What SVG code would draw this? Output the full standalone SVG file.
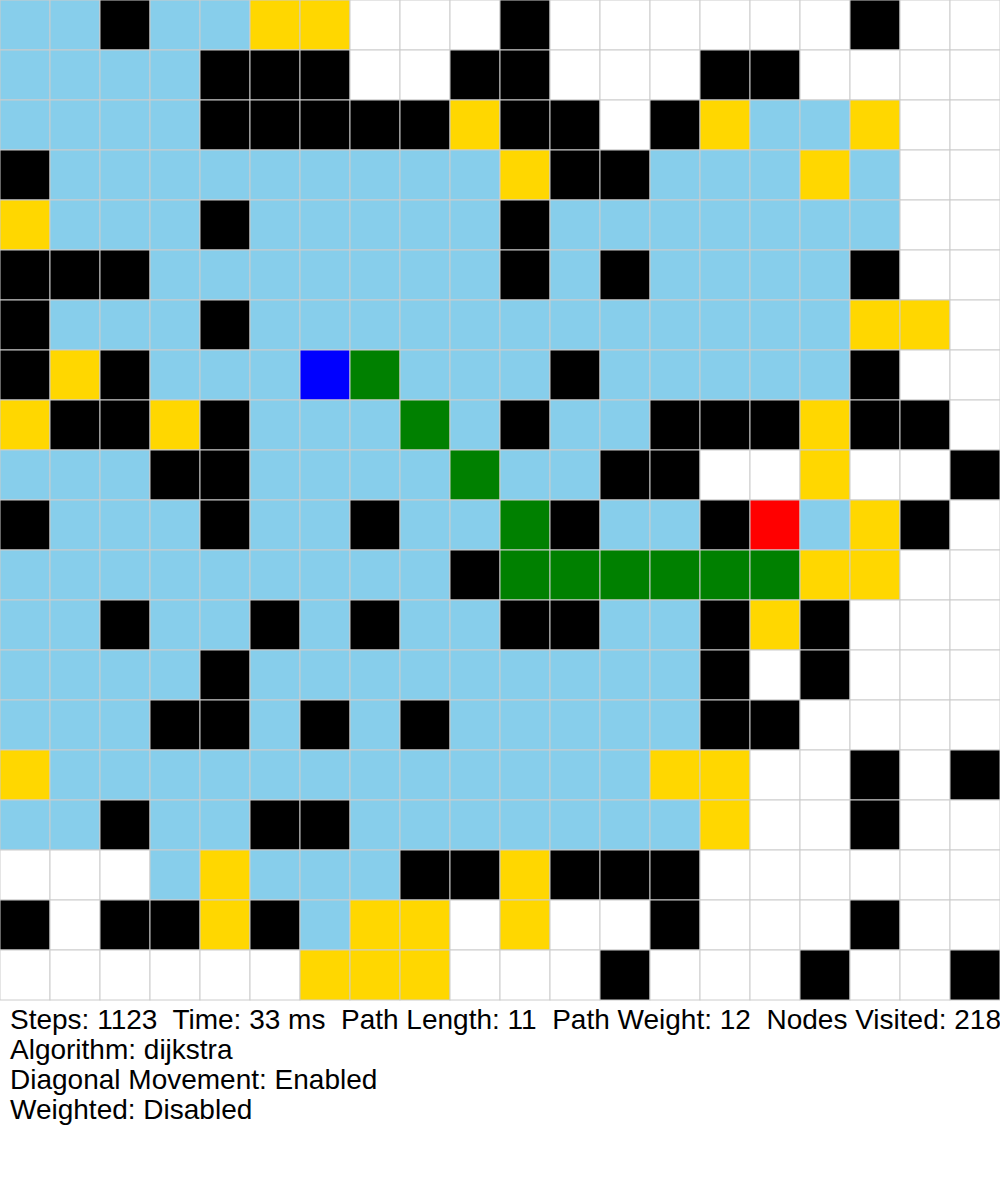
<svg xmlns="http://www.w3.org/2000/svg" width="1000" height="1200" viewBox="0 0 1000 1200">
<style>
rect{stroke:#cccccc;stroke-width:1}
.L{fill:#87CEEB}.B{fill:#000000}.Y{fill:#FFD700}.W{fill:#FFFFFF}.U{fill:#0000FF}.G{fill:#008000}.R{fill:#FF0000}
text{font-family:"Liberation Sans",Arial,sans-serif;font-size:28px;fill:#000;white-space:pre}
</style>
<rect x="0" y="0" width="1000" height="1200" fill="#FFFFFF" style="stroke:none"/>
<g id="grid">
<g id="row0"><rect class="L" x="0" y="0" width="50" height="50"/><rect class="L" x="50" y="0" width="50" height="50"/><rect class="B" x="100" y="0" width="50" height="50"/><rect class="L" x="150" y="0" width="50" height="50"/><rect class="L" x="200" y="0" width="50" height="50"/><rect class="Y" x="250" y="0" width="50" height="50"/><rect class="Y" x="300" y="0" width="50" height="50"/><rect class="W" x="350" y="0" width="50" height="50"/><rect class="W" x="400" y="0" width="50" height="50"/><rect class="W" x="450" y="0" width="50" height="50"/><rect class="B" x="500" y="0" width="50" height="50"/><rect class="W" x="550" y="0" width="50" height="50"/><rect class="W" x="600" y="0" width="50" height="50"/><rect class="W" x="650" y="0" width="50" height="50"/><rect class="W" x="700" y="0" width="50" height="50"/><rect class="W" x="750" y="0" width="50" height="50"/><rect class="W" x="800" y="0" width="50" height="50"/><rect class="B" x="850" y="0" width="50" height="50"/><rect class="W" x="900" y="0" width="50" height="50"/><rect class="W" x="950" y="0" width="50" height="50"/></g>
<g id="row1"><rect class="L" x="0" y="50" width="50" height="50"/><rect class="L" x="50" y="50" width="50" height="50"/><rect class="L" x="100" y="50" width="50" height="50"/><rect class="L" x="150" y="50" width="50" height="50"/><rect class="B" x="200" y="50" width="50" height="50"/><rect class="B" x="250" y="50" width="50" height="50"/><rect class="B" x="300" y="50" width="50" height="50"/><rect class="W" x="350" y="50" width="50" height="50"/><rect class="W" x="400" y="50" width="50" height="50"/><rect class="B" x="450" y="50" width="50" height="50"/><rect class="B" x="500" y="50" width="50" height="50"/><rect class="W" x="550" y="50" width="50" height="50"/><rect class="W" x="600" y="50" width="50" height="50"/><rect class="W" x="650" y="50" width="50" height="50"/><rect class="B" x="700" y="50" width="50" height="50"/><rect class="B" x="750" y="50" width="50" height="50"/><rect class="W" x="800" y="50" width="50" height="50"/><rect class="W" x="850" y="50" width="50" height="50"/><rect class="W" x="900" y="50" width="50" height="50"/><rect class="W" x="950" y="50" width="50" height="50"/></g>
<g id="row2"><rect class="L" x="0" y="100" width="50" height="50"/><rect class="L" x="50" y="100" width="50" height="50"/><rect class="L" x="100" y="100" width="50" height="50"/><rect class="L" x="150" y="100" width="50" height="50"/><rect class="B" x="200" y="100" width="50" height="50"/><rect class="B" x="250" y="100" width="50" height="50"/><rect class="B" x="300" y="100" width="50" height="50"/><rect class="B" x="350" y="100" width="50" height="50"/><rect class="B" x="400" y="100" width="50" height="50"/><rect class="Y" x="450" y="100" width="50" height="50"/><rect class="B" x="500" y="100" width="50" height="50"/><rect class="B" x="550" y="100" width="50" height="50"/><rect class="W" x="600" y="100" width="50" height="50"/><rect class="B" x="650" y="100" width="50" height="50"/><rect class="Y" x="700" y="100" width="50" height="50"/><rect class="L" x="750" y="100" width="50" height="50"/><rect class="L" x="800" y="100" width="50" height="50"/><rect class="Y" x="850" y="100" width="50" height="50"/><rect class="W" x="900" y="100" width="50" height="50"/><rect class="W" x="950" y="100" width="50" height="50"/></g>
<g id="row3"><rect class="B" x="0" y="150" width="50" height="50"/><rect class="L" x="50" y="150" width="50" height="50"/><rect class="L" x="100" y="150" width="50" height="50"/><rect class="L" x="150" y="150" width="50" height="50"/><rect class="L" x="200" y="150" width="50" height="50"/><rect class="L" x="250" y="150" width="50" height="50"/><rect class="L" x="300" y="150" width="50" height="50"/><rect class="L" x="350" y="150" width="50" height="50"/><rect class="L" x="400" y="150" width="50" height="50"/><rect class="L" x="450" y="150" width="50" height="50"/><rect class="Y" x="500" y="150" width="50" height="50"/><rect class="B" x="550" y="150" width="50" height="50"/><rect class="B" x="600" y="150" width="50" height="50"/><rect class="L" x="650" y="150" width="50" height="50"/><rect class="L" x="700" y="150" width="50" height="50"/><rect class="L" x="750" y="150" width="50" height="50"/><rect class="Y" x="800" y="150" width="50" height="50"/><rect class="L" x="850" y="150" width="50" height="50"/><rect class="W" x="900" y="150" width="50" height="50"/><rect class="W" x="950" y="150" width="50" height="50"/></g>
<g id="row4"><rect class="Y" x="0" y="200" width="50" height="50"/><rect class="L" x="50" y="200" width="50" height="50"/><rect class="L" x="100" y="200" width="50" height="50"/><rect class="L" x="150" y="200" width="50" height="50"/><rect class="B" x="200" y="200" width="50" height="50"/><rect class="L" x="250" y="200" width="50" height="50"/><rect class="L" x="300" y="200" width="50" height="50"/><rect class="L" x="350" y="200" width="50" height="50"/><rect class="L" x="400" y="200" width="50" height="50"/><rect class="L" x="450" y="200" width="50" height="50"/><rect class="B" x="500" y="200" width="50" height="50"/><rect class="L" x="550" y="200" width="50" height="50"/><rect class="L" x="600" y="200" width="50" height="50"/><rect class="L" x="650" y="200" width="50" height="50"/><rect class="L" x="700" y="200" width="50" height="50"/><rect class="L" x="750" y="200" width="50" height="50"/><rect class="L" x="800" y="200" width="50" height="50"/><rect class="L" x="850" y="200" width="50" height="50"/><rect class="W" x="900" y="200" width="50" height="50"/><rect class="W" x="950" y="200" width="50" height="50"/></g>
<g id="row5"><rect class="B" x="0" y="250" width="50" height="50"/><rect class="B" x="50" y="250" width="50" height="50"/><rect class="B" x="100" y="250" width="50" height="50"/><rect class="L" x="150" y="250" width="50" height="50"/><rect class="L" x="200" y="250" width="50" height="50"/><rect class="L" x="250" y="250" width="50" height="50"/><rect class="L" x="300" y="250" width="50" height="50"/><rect class="L" x="350" y="250" width="50" height="50"/><rect class="L" x="400" y="250" width="50" height="50"/><rect class="L" x="450" y="250" width="50" height="50"/><rect class="B" x="500" y="250" width="50" height="50"/><rect class="L" x="550" y="250" width="50" height="50"/><rect class="B" x="600" y="250" width="50" height="50"/><rect class="L" x="650" y="250" width="50" height="50"/><rect class="L" x="700" y="250" width="50" height="50"/><rect class="L" x="750" y="250" width="50" height="50"/><rect class="L" x="800" y="250" width="50" height="50"/><rect class="B" x="850" y="250" width="50" height="50"/><rect class="W" x="900" y="250" width="50" height="50"/><rect class="W" x="950" y="250" width="50" height="50"/></g>
<g id="row6"><rect class="B" x="0" y="300" width="50" height="50"/><rect class="L" x="50" y="300" width="50" height="50"/><rect class="L" x="100" y="300" width="50" height="50"/><rect class="L" x="150" y="300" width="50" height="50"/><rect class="B" x="200" y="300" width="50" height="50"/><rect class="L" x="250" y="300" width="50" height="50"/><rect class="L" x="300" y="300" width="50" height="50"/><rect class="L" x="350" y="300" width="50" height="50"/><rect class="L" x="400" y="300" width="50" height="50"/><rect class="L" x="450" y="300" width="50" height="50"/><rect class="L" x="500" y="300" width="50" height="50"/><rect class="L" x="550" y="300" width="50" height="50"/><rect class="L" x="600" y="300" width="50" height="50"/><rect class="L" x="650" y="300" width="50" height="50"/><rect class="L" x="700" y="300" width="50" height="50"/><rect class="L" x="750" y="300" width="50" height="50"/><rect class="L" x="800" y="300" width="50" height="50"/><rect class="Y" x="850" y="300" width="50" height="50"/><rect class="Y" x="900" y="300" width="50" height="50"/><rect class="W" x="950" y="300" width="50" height="50"/></g>
<g id="row7"><rect class="B" x="0" y="350" width="50" height="50"/><rect class="Y" x="50" y="350" width="50" height="50"/><rect class="B" x="100" y="350" width="50" height="50"/><rect class="L" x="150" y="350" width="50" height="50"/><rect class="L" x="200" y="350" width="50" height="50"/><rect class="L" x="250" y="350" width="50" height="50"/><rect class="U" x="300" y="350" width="50" height="50"/><rect class="G" x="350" y="350" width="50" height="50"/><rect class="L" x="400" y="350" width="50" height="50"/><rect class="L" x="450" y="350" width="50" height="50"/><rect class="L" x="500" y="350" width="50" height="50"/><rect class="B" x="550" y="350" width="50" height="50"/><rect class="L" x="600" y="350" width="50" height="50"/><rect class="L" x="650" y="350" width="50" height="50"/><rect class="L" x="700" y="350" width="50" height="50"/><rect class="L" x="750" y="350" width="50" height="50"/><rect class="L" x="800" y="350" width="50" height="50"/><rect class="B" x="850" y="350" width="50" height="50"/><rect class="W" x="900" y="350" width="50" height="50"/><rect class="W" x="950" y="350" width="50" height="50"/></g>
<g id="row8"><rect class="Y" x="0" y="400" width="50" height="50"/><rect class="B" x="50" y="400" width="50" height="50"/><rect class="B" x="100" y="400" width="50" height="50"/><rect class="Y" x="150" y="400" width="50" height="50"/><rect class="B" x="200" y="400" width="50" height="50"/><rect class="L" x="250" y="400" width="50" height="50"/><rect class="L" x="300" y="400" width="50" height="50"/><rect class="L" x="350" y="400" width="50" height="50"/><rect class="G" x="400" y="400" width="50" height="50"/><rect class="L" x="450" y="400" width="50" height="50"/><rect class="B" x="500" y="400" width="50" height="50"/><rect class="L" x="550" y="400" width="50" height="50"/><rect class="L" x="600" y="400" width="50" height="50"/><rect class="B" x="650" y="400" width="50" height="50"/><rect class="B" x="700" y="400" width="50" height="50"/><rect class="B" x="750" y="400" width="50" height="50"/><rect class="Y" x="800" y="400" width="50" height="50"/><rect class="B" x="850" y="400" width="50" height="50"/><rect class="B" x="900" y="400" width="50" height="50"/><rect class="W" x="950" y="400" width="50" height="50"/></g>
<g id="row9"><rect class="L" x="0" y="450" width="50" height="50"/><rect class="L" x="50" y="450" width="50" height="50"/><rect class="L" x="100" y="450" width="50" height="50"/><rect class="B" x="150" y="450" width="50" height="50"/><rect class="B" x="200" y="450" width="50" height="50"/><rect class="L" x="250" y="450" width="50" height="50"/><rect class="L" x="300" y="450" width="50" height="50"/><rect class="L" x="350" y="450" width="50" height="50"/><rect class="L" x="400" y="450" width="50" height="50"/><rect class="G" x="450" y="450" width="50" height="50"/><rect class="L" x="500" y="450" width="50" height="50"/><rect class="L" x="550" y="450" width="50" height="50"/><rect class="B" x="600" y="450" width="50" height="50"/><rect class="B" x="650" y="450" width="50" height="50"/><rect class="W" x="700" y="450" width="50" height="50"/><rect class="W" x="750" y="450" width="50" height="50"/><rect class="Y" x="800" y="450" width="50" height="50"/><rect class="W" x="850" y="450" width="50" height="50"/><rect class="W" x="900" y="450" width="50" height="50"/><rect class="B" x="950" y="450" width="50" height="50"/></g>
<g id="row10"><rect class="B" x="0" y="500" width="50" height="50"/><rect class="L" x="50" y="500" width="50" height="50"/><rect class="L" x="100" y="500" width="50" height="50"/><rect class="L" x="150" y="500" width="50" height="50"/><rect class="B" x="200" y="500" width="50" height="50"/><rect class="L" x="250" y="500" width="50" height="50"/><rect class="L" x="300" y="500" width="50" height="50"/><rect class="B" x="350" y="500" width="50" height="50"/><rect class="L" x="400" y="500" width="50" height="50"/><rect class="L" x="450" y="500" width="50" height="50"/><rect class="G" x="500" y="500" width="50" height="50"/><rect class="B" x="550" y="500" width="50" height="50"/><rect class="L" x="600" y="500" width="50" height="50"/><rect class="L" x="650" y="500" width="50" height="50"/><rect class="B" x="700" y="500" width="50" height="50"/><rect class="R" x="750" y="500" width="50" height="50"/><rect class="L" x="800" y="500" width="50" height="50"/><rect class="Y" x="850" y="500" width="50" height="50"/><rect class="B" x="900" y="500" width="50" height="50"/><rect class="W" x="950" y="500" width="50" height="50"/></g>
<g id="row11"><rect class="L" x="0" y="550" width="50" height="50"/><rect class="L" x="50" y="550" width="50" height="50"/><rect class="L" x="100" y="550" width="50" height="50"/><rect class="L" x="150" y="550" width="50" height="50"/><rect class="L" x="200" y="550" width="50" height="50"/><rect class="L" x="250" y="550" width="50" height="50"/><rect class="L" x="300" y="550" width="50" height="50"/><rect class="L" x="350" y="550" width="50" height="50"/><rect class="L" x="400" y="550" width="50" height="50"/><rect class="B" x="450" y="550" width="50" height="50"/><rect class="G" x="500" y="550" width="50" height="50"/><rect class="G" x="550" y="550" width="50" height="50"/><rect class="G" x="600" y="550" width="50" height="50"/><rect class="G" x="650" y="550" width="50" height="50"/><rect class="G" x="700" y="550" width="50" height="50"/><rect class="G" x="750" y="550" width="50" height="50"/><rect class="Y" x="800" y="550" width="50" height="50"/><rect class="Y" x="850" y="550" width="50" height="50"/><rect class="W" x="900" y="550" width="50" height="50"/><rect class="W" x="950" y="550" width="50" height="50"/></g>
<g id="row12"><rect class="L" x="0" y="600" width="50" height="50"/><rect class="L" x="50" y="600" width="50" height="50"/><rect class="B" x="100" y="600" width="50" height="50"/><rect class="L" x="150" y="600" width="50" height="50"/><rect class="L" x="200" y="600" width="50" height="50"/><rect class="B" x="250" y="600" width="50" height="50"/><rect class="L" x="300" y="600" width="50" height="50"/><rect class="B" x="350" y="600" width="50" height="50"/><rect class="L" x="400" y="600" width="50" height="50"/><rect class="L" x="450" y="600" width="50" height="50"/><rect class="B" x="500" y="600" width="50" height="50"/><rect class="B" x="550" y="600" width="50" height="50"/><rect class="L" x="600" y="600" width="50" height="50"/><rect class="L" x="650" y="600" width="50" height="50"/><rect class="B" x="700" y="600" width="50" height="50"/><rect class="Y" x="750" y="600" width="50" height="50"/><rect class="B" x="800" y="600" width="50" height="50"/><rect class="W" x="850" y="600" width="50" height="50"/><rect class="W" x="900" y="600" width="50" height="50"/><rect class="W" x="950" y="600" width="50" height="50"/></g>
<g id="row13"><rect class="L" x="0" y="650" width="50" height="50"/><rect class="L" x="50" y="650" width="50" height="50"/><rect class="L" x="100" y="650" width="50" height="50"/><rect class="L" x="150" y="650" width="50" height="50"/><rect class="B" x="200" y="650" width="50" height="50"/><rect class="L" x="250" y="650" width="50" height="50"/><rect class="L" x="300" y="650" width="50" height="50"/><rect class="L" x="350" y="650" width="50" height="50"/><rect class="L" x="400" y="650" width="50" height="50"/><rect class="L" x="450" y="650" width="50" height="50"/><rect class="L" x="500" y="650" width="50" height="50"/><rect class="L" x="550" y="650" width="50" height="50"/><rect class="L" x="600" y="650" width="50" height="50"/><rect class="L" x="650" y="650" width="50" height="50"/><rect class="B" x="700" y="650" width="50" height="50"/><rect class="W" x="750" y="650" width="50" height="50"/><rect class="B" x="800" y="650" width="50" height="50"/><rect class="W" x="850" y="650" width="50" height="50"/><rect class="W" x="900" y="650" width="50" height="50"/><rect class="W" x="950" y="650" width="50" height="50"/></g>
<g id="row14"><rect class="L" x="0" y="700" width="50" height="50"/><rect class="L" x="50" y="700" width="50" height="50"/><rect class="L" x="100" y="700" width="50" height="50"/><rect class="B" x="150" y="700" width="50" height="50"/><rect class="B" x="200" y="700" width="50" height="50"/><rect class="L" x="250" y="700" width="50" height="50"/><rect class="B" x="300" y="700" width="50" height="50"/><rect class="L" x="350" y="700" width="50" height="50"/><rect class="B" x="400" y="700" width="50" height="50"/><rect class="L" x="450" y="700" width="50" height="50"/><rect class="L" x="500" y="700" width="50" height="50"/><rect class="L" x="550" y="700" width="50" height="50"/><rect class="L" x="600" y="700" width="50" height="50"/><rect class="L" x="650" y="700" width="50" height="50"/><rect class="B" x="700" y="700" width="50" height="50"/><rect class="B" x="750" y="700" width="50" height="50"/><rect class="W" x="800" y="700" width="50" height="50"/><rect class="W" x="850" y="700" width="50" height="50"/><rect class="W" x="900" y="700" width="50" height="50"/><rect class="W" x="950" y="700" width="50" height="50"/></g>
<g id="row15"><rect class="Y" x="0" y="750" width="50" height="50"/><rect class="L" x="50" y="750" width="50" height="50"/><rect class="L" x="100" y="750" width="50" height="50"/><rect class="L" x="150" y="750" width="50" height="50"/><rect class="L" x="200" y="750" width="50" height="50"/><rect class="L" x="250" y="750" width="50" height="50"/><rect class="L" x="300" y="750" width="50" height="50"/><rect class="L" x="350" y="750" width="50" height="50"/><rect class="L" x="400" y="750" width="50" height="50"/><rect class="L" x="450" y="750" width="50" height="50"/><rect class="L" x="500" y="750" width="50" height="50"/><rect class="L" x="550" y="750" width="50" height="50"/><rect class="L" x="600" y="750" width="50" height="50"/><rect class="Y" x="650" y="750" width="50" height="50"/><rect class="Y" x="700" y="750" width="50" height="50"/><rect class="W" x="750" y="750" width="50" height="50"/><rect class="W" x="800" y="750" width="50" height="50"/><rect class="B" x="850" y="750" width="50" height="50"/><rect class="W" x="900" y="750" width="50" height="50"/><rect class="B" x="950" y="750" width="50" height="50"/></g>
<g id="row16"><rect class="L" x="0" y="800" width="50" height="50"/><rect class="L" x="50" y="800" width="50" height="50"/><rect class="B" x="100" y="800" width="50" height="50"/><rect class="L" x="150" y="800" width="50" height="50"/><rect class="L" x="200" y="800" width="50" height="50"/><rect class="B" x="250" y="800" width="50" height="50"/><rect class="B" x="300" y="800" width="50" height="50"/><rect class="L" x="350" y="800" width="50" height="50"/><rect class="L" x="400" y="800" width="50" height="50"/><rect class="L" x="450" y="800" width="50" height="50"/><rect class="L" x="500" y="800" width="50" height="50"/><rect class="L" x="550" y="800" width="50" height="50"/><rect class="L" x="600" y="800" width="50" height="50"/><rect class="L" x="650" y="800" width="50" height="50"/><rect class="Y" x="700" y="800" width="50" height="50"/><rect class="W" x="750" y="800" width="50" height="50"/><rect class="W" x="800" y="800" width="50" height="50"/><rect class="B" x="850" y="800" width="50" height="50"/><rect class="W" x="900" y="800" width="50" height="50"/><rect class="W" x="950" y="800" width="50" height="50"/></g>
<g id="row17"><rect class="W" x="0" y="850" width="50" height="50"/><rect class="W" x="50" y="850" width="50" height="50"/><rect class="W" x="100" y="850" width="50" height="50"/><rect class="L" x="150" y="850" width="50" height="50"/><rect class="Y" x="200" y="850" width="50" height="50"/><rect class="L" x="250" y="850" width="50" height="50"/><rect class="L" x="300" y="850" width="50" height="50"/><rect class="L" x="350" y="850" width="50" height="50"/><rect class="B" x="400" y="850" width="50" height="50"/><rect class="B" x="450" y="850" width="50" height="50"/><rect class="Y" x="500" y="850" width="50" height="50"/><rect class="B" x="550" y="850" width="50" height="50"/><rect class="B" x="600" y="850" width="50" height="50"/><rect class="B" x="650" y="850" width="50" height="50"/><rect class="W" x="700" y="850" width="50" height="50"/><rect class="W" x="750" y="850" width="50" height="50"/><rect class="W" x="800" y="850" width="50" height="50"/><rect class="W" x="850" y="850" width="50" height="50"/><rect class="W" x="900" y="850" width="50" height="50"/><rect class="W" x="950" y="850" width="50" height="50"/></g>
<g id="row18"><rect class="B" x="0" y="900" width="50" height="50"/><rect class="W" x="50" y="900" width="50" height="50"/><rect class="B" x="100" y="900" width="50" height="50"/><rect class="B" x="150" y="900" width="50" height="50"/><rect class="Y" x="200" y="900" width="50" height="50"/><rect class="B" x="250" y="900" width="50" height="50"/><rect class="L" x="300" y="900" width="50" height="50"/><rect class="Y" x="350" y="900" width="50" height="50"/><rect class="Y" x="400" y="900" width="50" height="50"/><rect class="W" x="450" y="900" width="50" height="50"/><rect class="Y" x="500" y="900" width="50" height="50"/><rect class="W" x="550" y="900" width="50" height="50"/><rect class="W" x="600" y="900" width="50" height="50"/><rect class="B" x="650" y="900" width="50" height="50"/><rect class="W" x="700" y="900" width="50" height="50"/><rect class="W" x="750" y="900" width="50" height="50"/><rect class="W" x="800" y="900" width="50" height="50"/><rect class="B" x="850" y="900" width="50" height="50"/><rect class="W" x="900" y="900" width="50" height="50"/><rect class="W" x="950" y="900" width="50" height="50"/></g>
<g id="row19"><rect class="W" x="0" y="950" width="50" height="50"/><rect class="W" x="50" y="950" width="50" height="50"/><rect class="W" x="100" y="950" width="50" height="50"/><rect class="W" x="150" y="950" width="50" height="50"/><rect class="W" x="200" y="950" width="50" height="50"/><rect class="W" x="250" y="950" width="50" height="50"/><rect class="Y" x="300" y="950" width="50" height="50"/><rect class="Y" x="350" y="950" width="50" height="50"/><rect class="Y" x="400" y="950" width="50" height="50"/><rect class="W" x="450" y="950" width="50" height="50"/><rect class="W" x="500" y="950" width="50" height="50"/><rect class="W" x="550" y="950" width="50" height="50"/><rect class="B" x="600" y="950" width="50" height="50"/><rect class="W" x="650" y="950" width="50" height="50"/><rect class="W" x="700" y="950" width="50" height="50"/><rect class="W" x="750" y="950" width="50" height="50"/><rect class="B" x="800" y="950" width="50" height="50"/><rect class="W" x="850" y="950" width="50" height="50"/><rect class="W" x="900" y="950" width="50" height="50"/><rect class="B" x="950" y="950" width="50" height="50"/></g>
</g>
<g id="stats">
<text x="10" y="1029" xml:space="preserve">Steps: 1123  Time: 33 ms  Path Length: 11  Path Weight: 12  Nodes Visited: 218</text>
<text x="10" y="1059">Algorithm: dijkstra</text>
<text x="10" y="1089">Diagonal Movement: Enabled</text>
<text x="10" y="1119">Weighted: Disabled</text>
</g>
</svg>
